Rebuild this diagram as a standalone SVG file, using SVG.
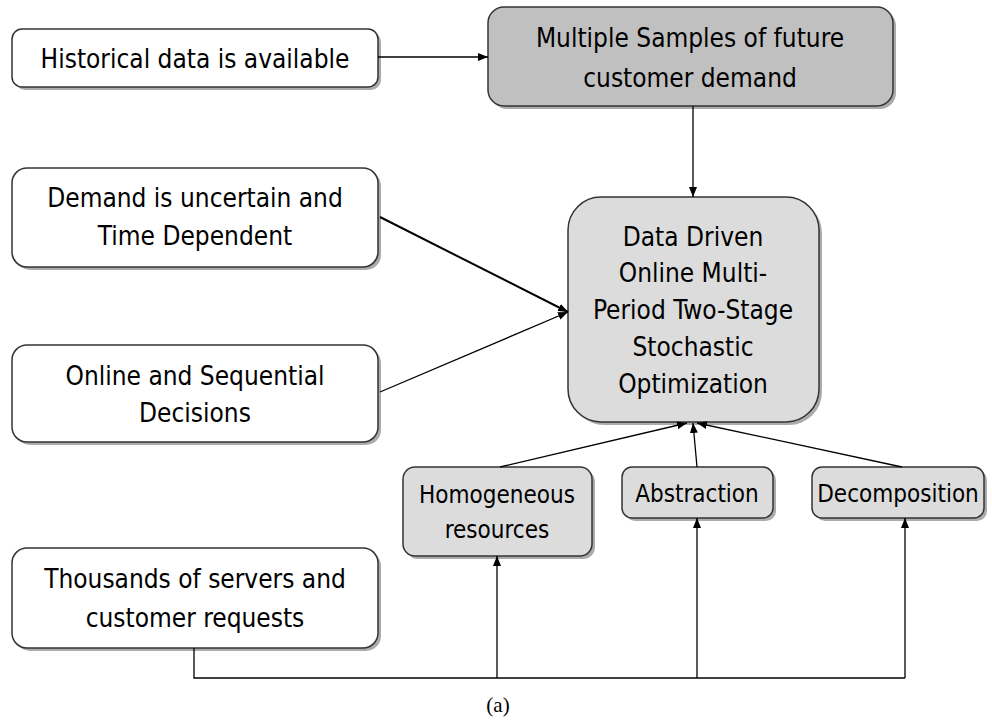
<svg xmlns="http://www.w3.org/2000/svg" width="992" height="720" viewBox="0 0 992 720">
<defs>
<marker id="arr" markerUnits="userSpaceOnUse" markerWidth="10" markerHeight="8" refX="10" refY="4" orient="auto">
<path d="M0,0 L10,4 L0,8 z" fill="#000"/>
</marker>
<style>
.box{stroke:#333;stroke-width:1.5}
.sh{fill:#666;opacity:0.55}
.w{fill:#fff}
.g1{fill:#c0c0c0}
.g2{fill:#dcdcdc}
.t{font-family:"DejaVu Sans Condensed","DejaVu Sans",sans-serif;font-stretch:condensed;font-size:26px;fill:#000;text-anchor:middle}
.s{font-size:24px}
.c{stroke:#000;stroke-width:1.3;fill:none}
.cap{font-family:"Liberation Serif",serif;font-size:21px;text-anchor:middle;fill:#000}
</style>
</defs>
<rect width="992" height="720" fill="#fff"/>

<g id="n-historical">
<rect class="sh" x="15" y="32" width="366" height="58" rx="10"/>
<rect class="box w" x="12" y="29" width="366" height="58" rx="10"/>
<text class="t" x="195" y="68">Historical data is available</text>
</g>

<g id="n-samples">
<rect class="sh" x="491" y="10" width="405" height="99" rx="16"/>
<rect class="box g1" x="488" y="7" width="405" height="99" rx="16"/>
<text class="t" x="690" y="47">Multiple Samples of future</text>
<text class="t" x="690" y="87">customer demand</text>
</g>

<g id="n-demand">
<rect class="sh" x="15" y="171" width="366" height="99" rx="15"/>
<rect class="box w" x="12" y="168" width="366" height="99" rx="15"/>
<text class="t" x="195" y="207">Demand is uncertain and</text>
<text class="t" x="195" y="245">Time Dependent</text>
</g>

<g id="n-online">
<rect class="sh" x="15" y="348" width="366" height="97" rx="15"/>
<rect class="box w" x="12" y="345" width="366" height="97" rx="15"/>
<text class="t" x="195" y="385">Online and Sequential</text>
<text class="t" x="195" y="422">Decisions</text>
</g>

<g id="n-thousands">
<rect class="sh" x="15" y="551" width="366" height="100" rx="15"/>
<rect class="box w" x="12" y="548" width="366" height="100" rx="15"/>
<text class="t" x="195" y="588">Thousands of servers and</text>
<text class="t" x="195" y="627">customer requests</text>
</g>

<g id="n-central">
<rect class="sh" x="571" y="200" width="251" height="225" rx="33"/>
<rect class="box g2" x="568" y="197" width="251" height="225" rx="33"/>
<text class="t" x="693" y="246">Data Driven</text>
<text class="t" x="693" y="282">Online Multi-</text>
<text class="t" x="693" y="319">Period Two-Stage</text>
<text class="t" x="693" y="356">Stochastic</text>
<text class="t" x="693" y="393">Optimization</text>
</g>

<g id="n-homogeneous">
<rect class="sh" x="406" y="470" width="189" height="89" rx="12"/>
<rect class="box g2" x="403" y="467" width="189" height="89" rx="12"/>
<text class="t s" x="497" y="503">Homogeneous</text>
<text class="t s" x="497" y="538">resources</text>
</g>

<g id="n-abstraction">
<rect class="sh" x="625" y="470" width="151" height="51" rx="10"/>
<rect class="box g2" x="622" y="467" width="151" height="51" rx="10"/>
<text class="t s" x="697" y="502">Abstraction</text>
</g>

<g id="n-decomposition">
<rect class="sh" x="815" y="470" width="172" height="51" rx="10"/>
<rect class="box g2" x="812" y="467" width="172" height="51" rx="10"/>
<text class="t s" x="898" y="502">Decomposition</text>
</g>

<g id="connectors">
<line class="c" x1="378" y1="57" x2="488" y2="57" marker-end="url(#arr)"/>
<line class="c" x1="693" y1="106" x2="693" y2="197" marker-end="url(#arr)"/>
<line class="c" x1="380" y1="217" x2="568" y2="312" marker-end="url(#arr)" style="stroke-width:2"/>
<line class="c" x1="380" y1="392" x2="568" y2="312" marker-end="url(#arr)"/>
<line class="c" x1="500" y1="467" x2="687" y2="423" marker-end="url(#arr)"/>
<line class="c" x1="697" y1="467" x2="693" y2="423" marker-end="url(#arr)"/>
<line class="c" x1="902" y1="467" x2="697" y2="423" marker-end="url(#arr)"/>
<polyline class="c" points="194,648 194,678 905,678"/>
<line class="c" x1="497" y1="678" x2="497" y2="556" marker-end="url(#arr)"/>
<line class="c" x1="697" y1="678" x2="697" y2="518" marker-end="url(#arr)"/>
<line class="c" x1="905" y1="678" x2="905" y2="518" marker-end="url(#arr)"/>
</g>

<text class="cap" x="498" y="712">(a)</text>
</svg>
